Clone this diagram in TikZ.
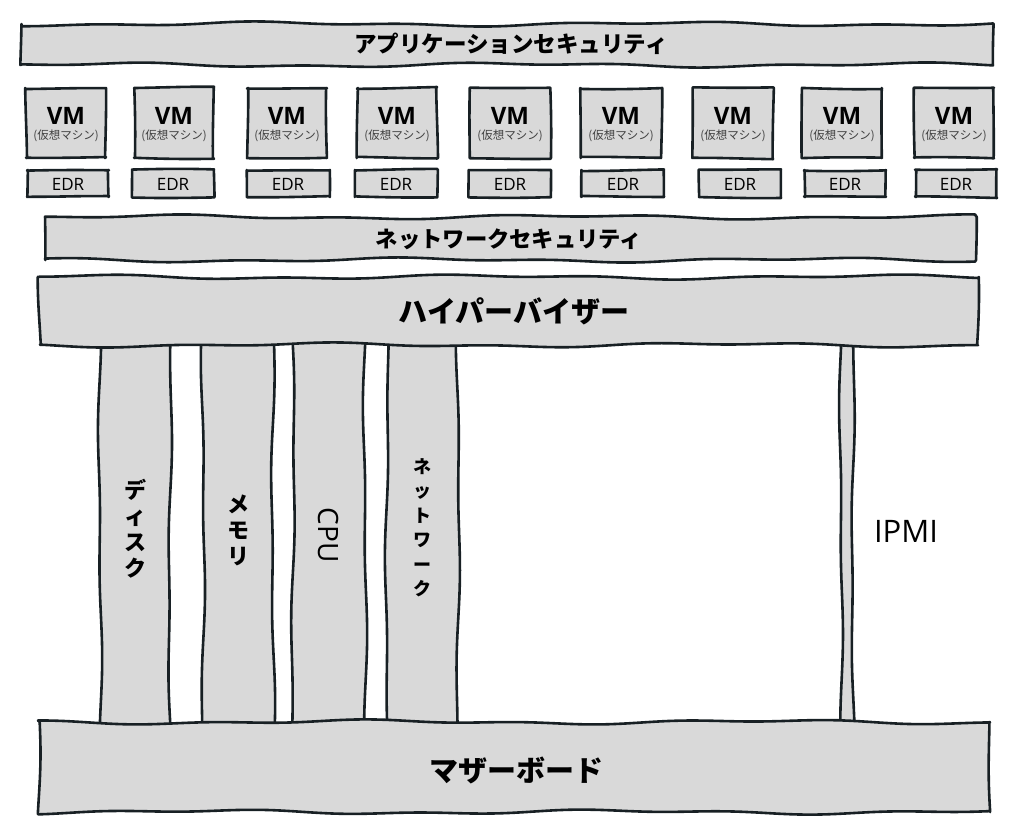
\documentclass[tikz,border=0pt]{standalone}
\usepackage{fontspec}
\setmainfont{Open Sans}
\newfontfamily\jp{Noto Sans CJK JP}
\definecolor{ink}{HTML}{182024}
\definecolor{boxgray}{HTML}{D9D9D9}
\tikzset{
  skline/.style={draw=ink, fill=boxgray, line width=2.6pt, line join=round},
  lab/.style={text=black, inner sep=0pt},
  edrlab/.style={lab, font=\fontsize{17}{17}\selectfont},
}
% \skrect[amp]{x1}{y1}{x2}{y2}{phase}
\newcommand\skrect[6][2]{%
  \pgfmathtruncatemacro\skNx{max(4,abs(#4-#2)/10)}%
  \pgfmathtruncatemacro\skNy{max(4,abs(#5-#3)/10)}%
  \filldraw[skline]
    plot[smooth,variable=\t,domain=#2:#4,samples=\skNx] (\t,{#3+#1*wv(\t,#6)})
    -- plot[smooth,variable=\t,domain=#3:#5,samples=\skNy] ({#4+#1*wv(\t,#6+70)},\t)
    -- plot[smooth,variable=\t,domain=#4:#2,samples=\skNx] (\t,{#5+#1*wv(\t,#6+140)})
    -- plot[smooth,variable=\t,domain=#5:#3,samples=\skNy] ({#2+#1*wv(\t,#6+210)},\t)
    -- cycle;}
\begin{document}
\begin{tikzpicture}[x=1pt,y=-1pt,
  declare function={wv(\t,\p)=0.6*sin(0.9*\t+\p)+0.4*sin(2.3*\t+1.7*\p);}]
\useasboundingbox (0,0) rectangle (1024,835);
% columns (behind bars)
\skrect[2.2]{100}{340}{170}{728}{10}
\skrect[2.2]{203}{340}{273}{728}{95}
\skrect[2.2]{293}{340}{365}{728}{180}
\skrect[2.2]{387}{340}{458}{728}{260}
\skrect[2]{841}{340}{853}{728}{40}
% bars
\skrect[2.6]{22}{24}{993}{65}{30}
\skrect[2.6]{45}{217}{975}{260}{120}
\skrect[2.6]{40}{277}{978}{345}{200}
\skrect[2.6]{38}{722}{990}{812}{300}
% VM and EDR boxes
\foreach \x/\ex [count=\i] in {66/68, 174/173, 287/288, 397/396, 510/510, 621/623, 733/740, 842/845, 954/956}{
  \pgfmathsetmacro\ph{\i*47}
  \skrect[1.3]{\x-40}{88}{\x+40}{158}{\ph}
  \skrect[1.2]{\ex-41}{170}{\ex+41}{197}{\ph+30}
  \node[lab, font=\bfseries\fontsize{24}{24}\selectfont] (vmt\i) at (\x,116) {VM};
  \node[lab, font=\jp\fontsize{11.5}{12}\selectfont, text=black!75] (vms\i) at (\x,136) {(仮想マシン)};
  \node[edrlab] (edr\i) at (\ex,184) {EDR};
}
% texts
\node[lab, font=\jp\bfseries\fontsize{22.5}{23}\selectfont] (appsec) at (511,44) {アプリケーションセキュリティ};
\node[lab, font=\jp\bfseries\fontsize{22.3}{23}\selectfont] (netsec) at (509,239) {ネットワークセキュリティ};
\node[lab, font=\jp\bfseries\fontsize{29}{30}\selectfont] (hyp) at (514,311) {ハイパーバイザー};
\node[lab, font=\jp\bfseries\fontsize{29}{30}\selectfont] (mb) at (516,770) {マザーボード};
\node[lab, align=center, font=\jp\bfseries\fontsize{22}{26}\selectfont] (disk) at (135,529) {デ\\ィ\\ス\\ク};
\node[lab, align=center, font=\jp\bfseries\fontsize{22}{26}\selectfont] (mem) at (238,530) {メ\\モ\\リ};
\node[lab, rotate=-90, font=\fontsize{28}{28}\selectfont] (cpu) at (328,535) {CPU};
\node[lab, align=center, font=\jp\bfseries\fontsize{18}{24.5}\selectfont] (net) at (422,528) {ネ\\ッ\\ト\\ワ\\ー\\ク};
\node[lab, font=\fontsize{31}{31}\selectfont] (ipmi) at (906,531) {IPMI};
\end{tikzpicture}
\end{document}
